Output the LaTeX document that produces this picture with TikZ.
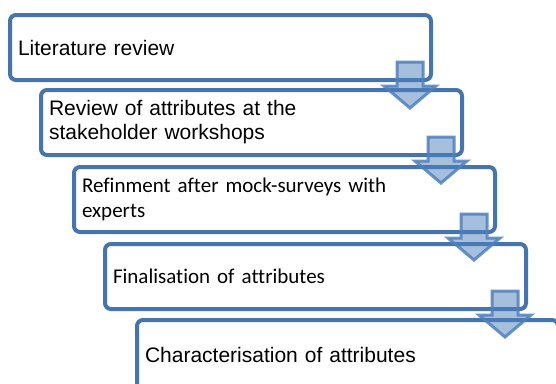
\documentclass[tikz,border=0pt]{standalone}
\usepackage{fontspec}
\setmainfont{Liberation Sans}
\newfontfamily\calfont[Ligatures=NoCommon]{Carlito}
\usetikzlibrary{calc}
\definecolor{boxblue}{HTML}{4674AE}
\definecolor{arrblue}{HTML}{4F81BD}
\tikzset{
  stepbox/.style={draw=boxblue, line width=4pt, rounded corners=6pt, fill=white,
    anchor=north west, outer sep=0pt, inner xsep=8pt, inner ysep=0pt,
    minimum height=65pt, text width=405pt, align=left,
    font=\fontsize{21}{24}\selectfont},
  calbox/.style={stepbox, font=\calfont\fontsize{21}{25}\selectfont},
  downarrow/.style={draw=arrblue, draw opacity=0.85, fill=arrblue, fill opacity=0.5,
    line width=3pt, line join=miter}
}
\begin{document}
\begin{tikzpicture}[x=1pt,y=1pt]
\clip (0,0) rectangle (556,-383);
\fill[white] (0,0) rectangle (556,-383);
\node[stepbox] (b1) at (10,-15) {Literature review};
\node[stepbox] (b2) at (41,-90) {Review of attributes at the\\stakeholder workshops};
\node[calbox] (b3) at (74,-167) {Refinment after mock-surveys with\\experts};
\node[calbox] (b4) at (105,-244) {Finalisation of attributes};
\node[stepbox, minimum height=70pt] (b5) at (137,-320) {Characterisation of attributes};
\foreach \i in {1,2,3,4}{
  \coordinate (a\i) at ($(b\i.south east)+(-21,18)$);
  \draw[downarrow] (a\i) ++(-13,0) -- ++(26,0) -- ++(0,-24) -- ++(13,0)
    -- ++(-26,-22) -- ++(-26,22) -- ++(13,0) -- cycle;
}
\end{tikzpicture}
\end{document}
